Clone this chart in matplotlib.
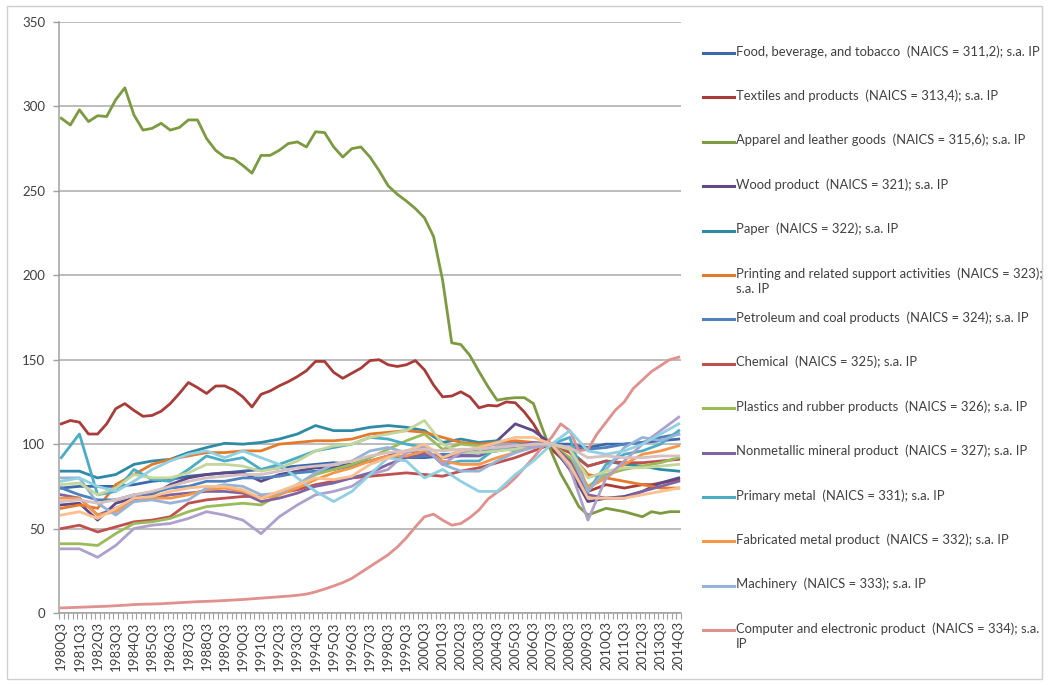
import numpy as np
import matplotlib
matplotlib.use("Agg")
import matplotlib.pyplot as plt
from matplotlib.lines import Line2D
from matplotlib.patches import Rectangle

plt.rcParams['font.family'] = ['Lato', 'DejaVu Sans']

# quarters 1980Q3 .. 2014Q3
quarters = [f"{y}Q{q}" for y in range(1980, 2015) for q in (1, 2, 3, 4)][2:-1]
tick_labels = quarters[::4]

# series (index, 2007 = 100)
# semi-annual readings (every 2 quarters) for the standout lines
apparel = [293, 289, 298, 291, 294.5, 294, 304, 311, 295, 286, 287, 290, 286, 287.5,
           292, 292, 281, 274, 270, 269, 265, 260.5, 271, 271, 274, 278, 279, 276,
           285, 284.5, 276, 270, 275, 276, 270, 262, 253, 248, 244, 239.5, 234, 223,
           197, 160, 159, 152.5, 143, 134, 126, 127, 127.5, 127.5, 124, 109, 95,
           82.5, 73, 63, 58, 60, 62, 61, 60, 58.5, 57, 60, 59, 60, 60]
textiles = [112, 114, 113, 106, 106, 112, 121, 124, 120, 116.5, 117, 119.5, 124, 130,
            136.5, 133.5, 130, 134.4, 134.5, 132, 128, 122, 129.5, 131.5, 134.5, 137,
            140, 143.5, 149, 149, 142.5, 139, 142, 145, 149.5, 150, 147, 146, 147,
            149.5, 144, 135, 128, 128.5, 131, 128, 121.5, 123, 122.6, 125, 124.5, 119,
            112, 103, 97, 92, 86, 75, 72, 74, 76, 75, 74, 75, 76, 76, 77, 78, 79]
computer = [3, 3.2, 3.4, 3.6, 3.8, 4, 4.3, 4.6, 5, 5.2, 5.3, 5.5, 5.8, 6.1, 6.4, 6.7,
            6.9, 7.1, 7.4, 7.7, 8, 8.4, 8.8, 9.2, 9.6, 10, 10.5, 11.2, 12.5, 14.2, 16,
            18, 20.5, 24, 27.5, 31, 34.5, 39, 44.5, 51, 57, 58.5, 55, 52, 53, 56.5, 61,
            67.5, 71.5, 75, 80, 86, 92, 98.5, 104, 112, 108, 96, 97, 106, 113, 120, 125,
            133, 138, 143, 146.5, 150, 151.5]

# yearly readings (each Q3) for the bundle
food = [74, 75, 75, 75, 76, 78, 79, 81, 82, 83, 84, 85, 86, 87, 88, 89, 88, 90, 92,
        92, 92, 93, 94, 95, 96, 98, 99, 100, 100, 98, 100, 100, 101, 102, 103]
wood = [64, 65, 55, 65, 68, 70, 76, 80, 82, 83, 83, 78, 82, 84, 86, 86, 88, 90, 93,
        96, 95, 92, 96, 97, 102, 112, 108, 100, 85, 66, 68, 69, 72, 77, 80]
paper = [84, 84, 80, 82, 88, 90, 91, 95, 98, 100.5, 100, 101, 103, 106, 111, 108, 108,
         110, 111, 110, 108, 101, 103, 101, 102, 101, 100, 100, 96, 87, 90, 88, 87, 85, 84]
printing = [62, 64, 62, 76, 82, 88, 91, 93, 95, 95, 96, 96, 100, 101, 102, 102, 103,
            106, 107, 108, 107, 104, 101, 100, 101, 102, 101, 100, 95, 82, 80, 78, 76, 74, 74]
petroleum = [74, 70, 67, 67, 70, 71, 74, 75, 78, 78, 80, 80, 81, 83, 84, 85, 87, 90, 92,
             92, 93, 94, 94, 95, 98, 98, 99, 100, 98, 97, 98, 100, 101, 104, 106]
chemical = [50, 52, 48, 51, 54, 55, 57, 65, 67, 68, 69, 69, 71, 73, 76, 78, 80, 81, 82,
            83, 82, 81, 84, 86, 89, 92, 96, 100, 95, 87, 90, 89, 89, 90, 91]
plastics = [41, 41, 40, 47, 53, 54, 56, 60, 63, 64, 65, 64, 70, 76, 82, 85, 88, 92, 97,
            102, 106, 97, 100, 99, 100, 99, 100, 100, 92, 75, 82, 85, 87, 89, 92]
nonmetallic = [70, 68, 58, 62, 67, 68, 70, 71, 72, 72, 71, 66, 68, 71, 75, 77, 80, 83,
               88, 92, 94, 92, 93, 93, 97, 99, 101, 100, 90, 70, 68, 68, 72, 75, 78]
primary_metal = [92, 106, 70, 72, 85, 79, 78, 85, 93, 90, 92, 85, 88, 92, 96, 98, 100,
                 104, 103, 100, 98, 88, 90, 90, 98, 96, 100, 100, 104, 72, 88, 94, 96, 100, 108]
fabricated = [68, 68, 58, 60, 66, 68, 68, 70, 73, 74, 72, 68, 70, 74, 79, 83, 86, 90, 93,
              93, 96, 90, 88, 88, 92, 95, 99, 100, 98, 74, 80, 88, 94, 96, 99]
machinery = [80, 80, 65, 58, 66, 67, 65, 67, 74, 76, 75, 70, 71, 76, 83, 88, 90, 96, 98,
             95, 98, 88, 84, 84, 90, 95, 98, 100, 97, 72, 85, 98, 104, 102, 106]
electrical = [76, 77, 70, 74, 82, 80, 80, 83, 88, 88, 87, 84, 86, 90, 96, 99, 100, 104,
              106, 108, 114, 100, 95, 95, 96, 97, 100, 100, 97, 80, 84, 86, 86, 87, 88]
motor_vehicles = [38, 38, 33, 40, 50, 52, 53, 56, 60, 58, 55, 47, 57, 64, 70, 72, 75, 82,
                  85, 95, 98, 88, 95, 98, 100, 100, 98, 100, 86, 55, 80, 90, 100, 108, 116]
aerospace = [78, 80, 75, 72, 78, 85, 90, 94, 96, 92, 96, 92, 88, 80, 72, 66, 72, 82, 92,
             90, 80, 85, 78, 72, 72, 82, 90, 100, 108, 96, 94, 96, 100, 106, 112]
furniture = [58, 60, 56, 62, 68, 69, 72, 74, 75, 75, 73, 68, 72, 76, 80, 79, 81, 88, 92,
             96, 100, 92, 96, 98, 101, 104, 104, 100, 88, 68, 68, 68, 70, 72, 74]
miscellaneous = [66, 67, 65, 67, 70, 72, 75, 78, 80, 81, 82, 82, 84, 86, 87, 88, 90, 93,
                 95, 96, 97, 96, 97, 97, 98, 99, 100, 100, 98, 92, 93, 92, 92, 93, 93]

labels = [
    "Food, beverage, and tobacco  (NAICS = 311,2); s.a. IP",
    "Textiles and products  (NAICS = 313,4); s.a. IP",
    "Apparel and leather goods  (NAICS = 315,6); s.a. IP",
    "Wood product  (NAICS = 321); s.a. IP",
    "Paper  (NAICS = 322); s.a. IP",
    "Printing and related support activities  (NAICS = 323);\ns.a. IP",
    "Petroleum and coal products  (NAICS = 324); s.a. IP",
    "Chemical  (NAICS = 325); s.a. IP",
    "Plastics and rubber products  (NAICS = 326); s.a. IP",
    "Nonmetallic mineral product  (NAICS = 327); s.a. IP",
    "Primary metal  (NAICS = 331); s.a. IP",
    "Fabricated metal product  (NAICS = 332); s.a. IP",
    "Machinery  (NAICS = 333); s.a. IP",
    "Computer and electronic product  (NAICS = 334); s.a.\nIP",
    "Electrical equipment  (NAICS = 335); s.a. IP",
    "Motor vehicles and parts  (NAICS = 3361-3); s.a. IP",
    "Aerospace and misc. transportation  (NAICS = 3364-9); s.a. IP",
    "Furniture and related product  (NAICS = 337); s.a. IP",
    "Miscellaneous  (NAICS = 339); s.a. IP",
]
series = [food, textiles, apparel, wood, paper, printing, petroleum, chemical,
          plastics, nonmetallic, primary_metal, fabricated, machinery, computer,
          electrical, motor_vehicles, aerospace, furniture, miscellaneous]
colors = ['#3B69AC', '#A83C39', '#7C9A3F', '#5F4A86', '#2F8BA5', '#E47A2C',
          '#4F81BD', '#C0504D', '#9BBB59', '#8064A2', '#4BACC6', '#F79646',
          '#95B3D7', '#E0908D', '#C3D69B', '#ADA0CB', '#8FD0E3', '#FAC090', '#D6C0C0']

W, H = 1049, 685
fig = plt.figure(figsize=(W / 100, H / 100), dpi=100)
ax = fig.add_axes([59 / W, 1 - 613 / H, (681 - 59) / W, (613 - 22) / H])

n_q = len(quarters)
for vals, col in zip(series, colors):
    step = (n_q - 1) // (len(vals) - 1)
    xs = np.arange(0, n_q, step)
    ax.plot(xs, vals, color=col, lw=2.0, solid_joinstyle='round')

ax.set_xlim(-0.5, n_q - 0.5)
ax.set_ylim(0, 350)
ax.set_yticks(np.arange(0, 351, 50))
ax.yaxis.grid(True, color='#A9A9A9', lw=1.1)
ax.set_axisbelow(True)
ax.tick_params(axis='y', labelsize=9.5, colors='#404040', length=4, width=1,
               direction='out', pad=6)
ax.tick_params(axis='y', color='#A0A0A0')

ax.set_xticks(np.arange(0, n_q, 4))
ax.set_xticklabels(tick_labels, rotation=90, fontsize=9.5, color='#404040')
ax.set_xticks(np.arange(-0.5, n_q, 1), minor=True)
ax.tick_params(axis='x', which='major', length=0, pad=6)
ax.tick_params(axis='x', which='minor', length=4, color='#A0A0A0', width=0.8)

for s in ('top', 'right'):
    ax.spines[s].set_visible(False)
for s in ('left', 'bottom'):
    ax.spines[s].set_color('#A0A0A0')
    ax.spines[s].set_linewidth(1.1)

# legend on the right (only the first 14 entries fit, as in the original)
for i in range(14):
    yc = 1 - (53 + i * 44.4) / H
    fig.add_artist(Line2D([703 / W, 734 / W], [yc, yc], color=colors[i], lw=2.2,
                          transform=fig.transFigure))
    fig.text(736 / W, yc + 8 / H, labels[i], ha='left', va='top', fontsize=9.4,
             color='#404040', linespacing=1.35)

# chart area border
fig.add_artist(Rectangle((7 / W, 1 - 679 / H), (1042 - 7) / W, (679 - 6) / H,
                         fill=False, ec='#CFCFCF', lw=1.0, transform=fig.transFigure))

fig.savefig('out.png', dpi=100, facecolor='white')
